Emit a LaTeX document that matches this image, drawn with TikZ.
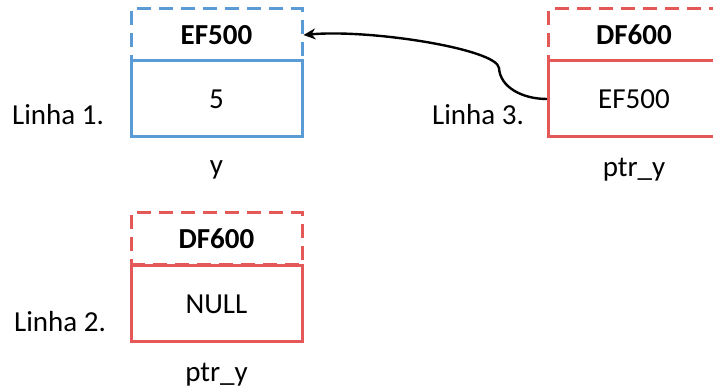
\documentclass[tikz,border=0pt]{standalone}
\usepackage{fontspec}
\setmainfont{Carlito}
\usetikzlibrary{arrows.meta}
\definecolor{cblue}{RGB}{91,155,213}
\definecolor{cred}{RGB}{228,88,88}
\begin{document}
\begin{tikzpicture}[x=1pt,y=1pt,
  every node/.style={font=\fontsize{29}{32}\selectfont, inner sep=0pt},
  addrbox/.style={draw, line width=3pt, dash pattern=on 14pt off 8pt, minimum width=171pt, minimum height=52pt, font=\fontsize{29}{32}\selectfont\bfseries},
  valbox/.style={draw, line width=3pt, minimum width=171pt, minimum height=76pt},
  lbl/.style={anchor=center}]
\useasboundingbox (0,0) rectangle (713,391);
\begin{scope}
\clip (0,0) rectangle (713,391);
% box 1 (blue)
\node[valbox, draw=cblue] (b1v) at (216.5,292) {5};
\node[addrbox, draw=cblue] (b1a) at (216.5,356) {EF500};
\node[lbl] (b1n) at (216.5,221) {y};
\node[lbl] (l1) at (58,276) {Linha 1.};
% box 2 (red)
\node[valbox, draw=cred] (b2v) at (216.5,87) {NULL};
\node[addrbox, draw=cred] (b2a) at (216.5,152) {DF600};
\node[lbl] (b2n) at (216.5,16) {ptr\_y};
\node[lbl] (l2) at (60,69) {Linha 2.};
% box 3 (red)
\node[valbox, draw=cred] (b3v) at (634,292) {EF500};
\node[addrbox, draw=cred] (b3a) at (634,356) {DF600};
\node[lbl] (b3n) at (634,221) {ptr\_y};
\node[lbl] (l3) at (478,276) {Linha 3.};
% pointer arrow
\coordinate (k) at (499,323);
\draw[line width=2.4pt, -{Stealth[length=12pt,width=11pt]}]
  (b3v.west) .. controls (522,292) and (500,304) .. (k)
  .. controls (497,342) and (370,362) .. (b1a.east);
\end{scope}
\end{tikzpicture}
\end{document}
